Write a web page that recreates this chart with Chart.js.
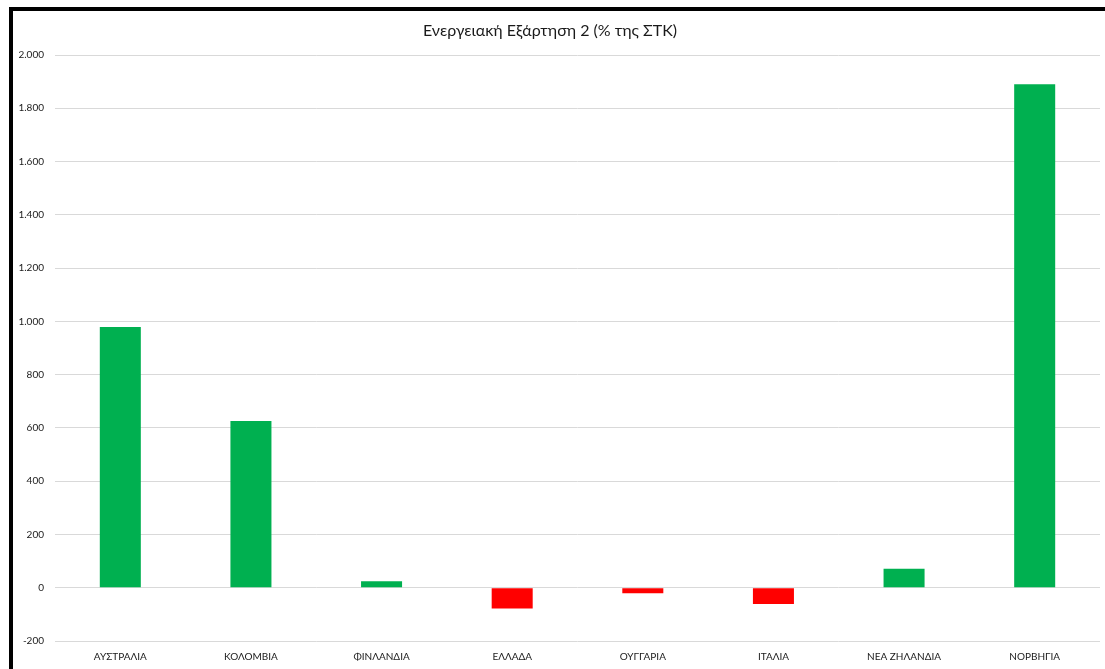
<!DOCTYPE html>
<html>
<head>
<meta charset="utf-8">
<script src="https://cdn.jsdelivr.net/npm/chart.js@4/dist/chart.umd.min.js"></script>
<style>
  html, body { margin: 0; padding: 0; background: #fff; overflow: hidden; }
  #wrap { position: relative; width: 1105px; height: 669px; }
  #frame { position: absolute; left: 9px; top: 7px; width: 1200px; height: 800px; border-top: 4px solid #000; border-left: 4px solid #000; box-sizing: border-box; pointer-events: none; }
  canvas { position: absolute; left: 0; top: 0; }
</style>
</head>
<body>
<div id="wrap">
  <canvas id="c" width="1105" height="669"></canvas>
  <div id="frame"></div>
</div>
<script>
const titleText = 'Ενεργειακή Εξάρτηση 2 (% της ΣΤΚ)';
const categories = ['ΑΥΣΤΡΑΛΙΑ', 'ΚΟΛΟΜΒΙΑ', 'ΦΙΝΛΑΝΔΙΑ', 'ΕΛΛΑΔΑ', 'ΟΥΓΓΑΡΙΑ', 'ΙΤΑΛΙΑ', 'ΝΕΑ ΖΗΛΑΝΔΙΑ', 'ΝΟΡΒΗΓΙΑ'];
const values = [979, 626, 24, -78, -21, -61, 71, 1890];
const yMin = -200, yMax = 2000, yStep = 200;

const barColors = values.map(v => v >= 0 ? '#00B050' : '#FF0000');

new Chart(document.getElementById('c'), {
  type: 'bar',
  data: {
    labels: categories,
    datasets: [{
      data: values,
      backgroundColor: barColors,
      borderWidth: 0,
      categoryPercentage: 1,
      barPercentage: 0.314
    }]
  },
  options: {
    responsive: false,
    animation: false,
    devicePixelRatio: 1,
    layout: { padding: { left: 0, right: 5, top: 0, bottom: 0 } },
    plugins: {
      legend: { display: false },
      tooltip: { enabled: false },
      title: {
        display: true,
        text: titleText,
        color: '#1a1a1a',
        font: { family: 'Lato', size: 16, weight: 'normal', lineHeight: 1.2 },
        padding: { top: 21, bottom: 14.8 }
      }
    },
    scales: {
      x: {
        grid: { display: false, drawTicks: false },
        border: { display: false },
        ticks: {
          color: '#1a1a1a',
          font: { family: 'Lato', size: 10 },
          padding: 10,
          maxRotation: 0,
          autoSkip: false
        },
        afterFit: s => { s.height = 28; }
      },
      y: {
        min: yMin,
        max: yMax,
        grid: { color: '#d9d9d9', lineWidth: 1, drawTicks: false },
        border: { display: false },
        ticks: {
          stepSize: yStep,
          color: '#1a1a1a',
          font: { family: 'Lato', size: 10 },
          padding: 11,
          callback: v => v.toLocaleString('de-DE')
        },
        afterFit: s => { s.width = 55; }
      }
    }
  }
});
</script>
</body>
</html>
